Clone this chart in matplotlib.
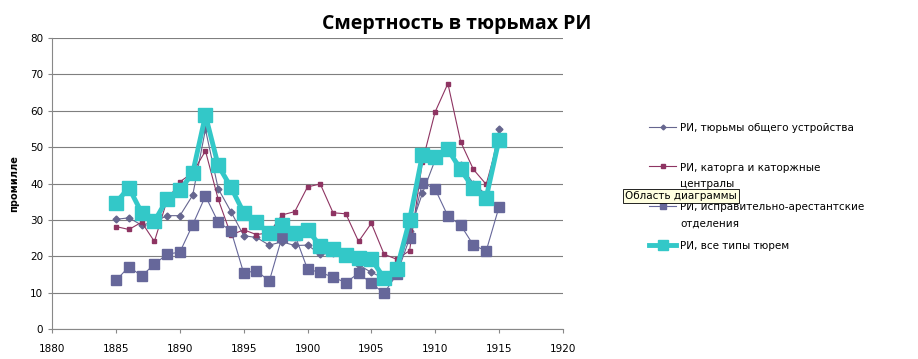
import matplotlib
matplotlib.use("Agg")
import matplotlib.pyplot as plt
import numpy as np

# данные
years = list(range(1885, 1916))

general = [30.2, 30.6, 28.6, 29.5, 31.2, 31.2, 36.8, 54.9, 38.6, 32.3, 25.7,
           25.2, 23.1, 24.0, 23.0, 23.1, 20.6, 20.9, 19.5, 17.7, 15.6, 14.0,
           15.5, 27.0, 37.3, 46.5, 49.0, 45.0, 40.0, 37.0, 54.9]

katorga = [28.2, 27.4, 29.4, 24.1, 35.5, 40.5, 43.0, 49.0, 35.7, 25.9, 27.3,
           26.0, 26.5, 31.4, 32.3, 39.1, 39.9, 32.0, 31.7, 24.1, 29.1, 20.6,
           19.2, 21.6, 46.0, 59.7, 67.5, 51.5, 43.9, 39.8, 52.5]

corrective = [13.4, 17.2, 14.6, 17.9, 20.6, 21.2, 28.7, 36.6, 29.4, 27.1, 15.4,
              16.1, 13.2, 25.3, 26.0, 16.5, 15.6, 14.3, 12.8, 15.4, 12.6, 9.9,
              15.1, 25.0, 40.3, 38.5, 31.1, 28.6, 23.1, 21.5, 33.5]

all_types = [34.8, 38.9, 32.0, 29.6, 35.8, 38.2, 42.9, 58.8, 45.0, 39.0, 32.0,
             29.4, 26.3, 28.5, 26.3, 27.3, 22.9, 22.0, 20.4, 19.5, 19.3, 14.0,
             16.6, 30.0, 47.9, 47.4, 49.4, 43.9, 38.7, 36.1, 52.0]

# пустая вторая строка у коротких подписей - чтобы шаг легенды был ровный
labels = ["РИ, тюрьмы общего устройства\n ",
          "РИ, каторга и каторжные\nцентралы",
          "РИ, исправительно-арестантские\nотделения",
          "РИ, все типы тюрем\n "]

xticks = list(range(1880, 1921, 5))
yticks = list(range(0, 81, 10))

plt.rcParams['font.family'] = ['DejaVu Sans']

fig = plt.figure(figsize=(9.18, 3.59), dpi=100)
ax = fig.add_axes([0.057, 0.083, 0.556, 0.811])

ax.plot(years, general, color='#66668f', lw=0.8, marker='D', ms=3.5,
        label=labels[0], zorder=3)
ax.plot(years, katorga, color='#8e3462', lw=0.8, marker='s', ms=3.5,
        label=labels[1], zorder=3)
ax.plot(years, corrective, color='#66679a', lw=0.8, marker='s', ms=6.5,
        label=labels[2], zorder=3)
ax.plot(years, all_types, color='#33c8c8', lw=3.5, marker='s', ms=10.5,
        label=labels[3], zorder=4)

ax.set_xlim(1880, 1920)
ax.set_ylim(0, 80)
ax.set_xticks(xticks)
ax.set_yticks(yticks)
ax.tick_params(axis='both', labelsize=7.5, length=3, color='#888888')
ax.tick_params(axis='x', pad=8)
ax.yaxis.grid(True, color='#7f7f7f', lw=0.8)
ax.set_axisbelow(True)
for s in ['top', 'right']:
    ax.spines[s].set_visible(False)
for s in ['left', 'bottom']:
    ax.spines[s].set_color('#888888')

ax.set_ylabel('промилле', fontsize=7, fontweight='bold', labelpad=8)

fig.text(0.497, 0.932, 'Смертность в тюрьмах РИ', fontsize=14,
         fontweight='bold', ha='center', va='center', family='Open Sans')

leg = fig.legend(loc='upper left', bbox_to_anchor=(0.697, 0.683), frameon=False,
                 fontsize=7.5, handlelength=2.6, handletextpad=0.4,
                 labelspacing=1.25, markerscale=0.7)
for t in leg.get_texts():
    t.set_linespacing(1.8)
# маркер напротив первой строки подписи
for col in leg._legend_handle_box.get_children():
    for item in col.get_children():
        item.align = 'top'

# всплывающая подсказка Excel, как на скриншоте
fig.text(0.681, 0.454, 'Область диаграммы', fontsize=7.5, ha='left',
         va='center', bbox=dict(boxstyle='square,pad=0.2', fc='#ffffe1',
                                ec='black', lw=0.6), zorder=10)

fig.savefig('out.png', dpi=100)
